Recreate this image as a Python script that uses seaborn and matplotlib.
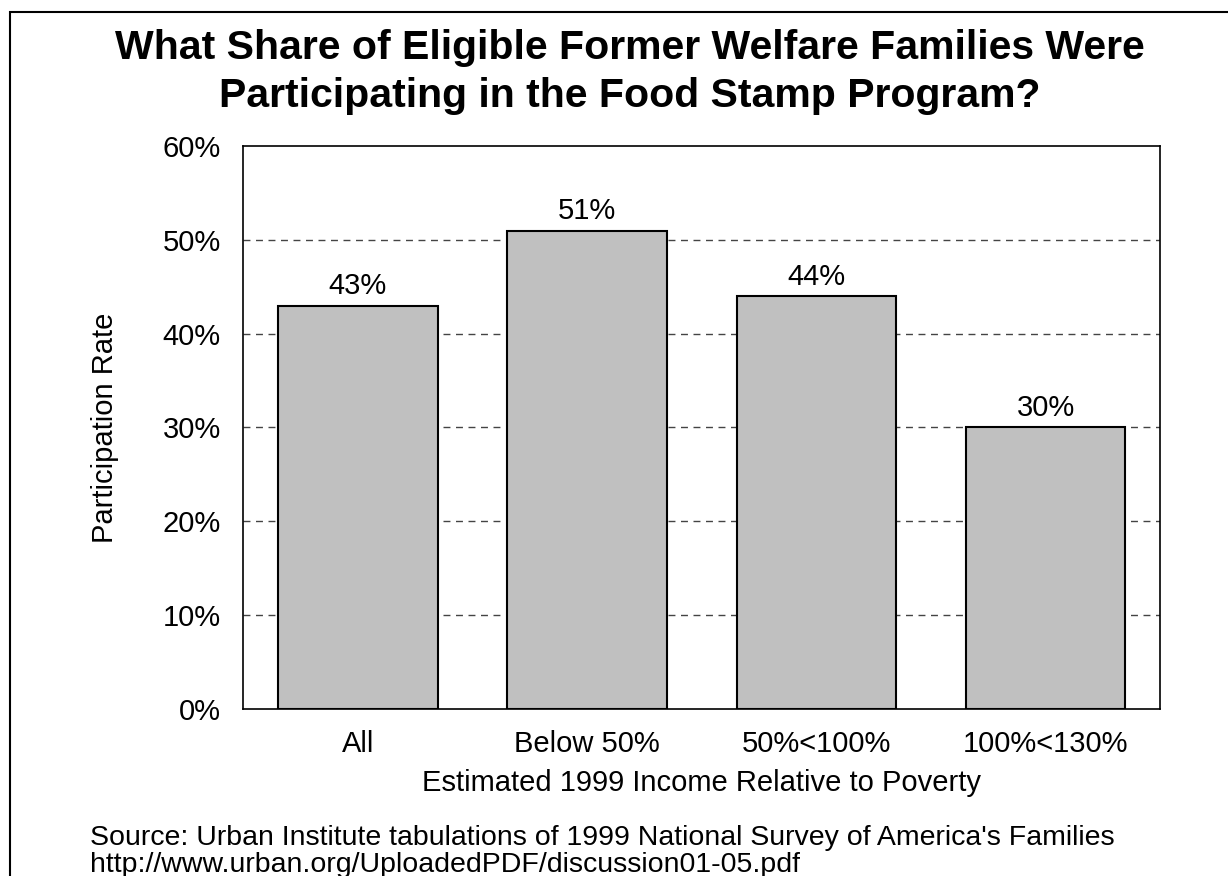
import matplotlib
matplotlib.use("Agg")
import matplotlib.pyplot as plt
import seaborn as sns
import pandas as pd
from matplotlib.patches import Rectangle
from matplotlib.ticker import MultipleLocator, PercentFormatter

categories = ["All", "Below 50%", "50%<100%", "100%<130%"]
rates = [43, 51, 44, 30]
title = "What Share of Eligible Former Welfare Families Were\nParticipating in the Food Stamp Program?"
xlabel = "Estimated 1999 Income Relative to Poverty"
ylabel = "Participation Rate"
source = ("Source: Urban Institute tabulations of 1999 National Survey of America's Families\n"
          "http://www.urban.org/UploadedPDF/discussion01-05.pdf")

sns.set_theme(style="white")
plt.rcParams["font.family"] = ["Liberation Sans", "DejaVu Sans"]
plt.rcParams["text.color"] = "black"
plt.rcParams["axes.labelcolor"] = "black"

df = pd.DataFrame({"category": categories, "rate": rates})

fig = plt.figure(figsize=(12.28, 8.76), dpi=100)
ax = fig.add_axes([0.198, 0.191, 0.747, 0.642])

sns.barplot(data=df, x="category", y="rate", color="#c0c0c0", saturation=1,
            width=0.695, edgecolor="black", linewidth=1.5, ax=ax, zorder=3)

ax.set_ylim(0, 60)
ax.set_xlim(-0.5, len(categories) - 0.5)
ax.yaxis.set_major_locator(MultipleLocator(10))
ax.yaxis.set_major_formatter(PercentFormatter(decimals=0))
for y in range(10, 60, 10):
    ax.axhline(y, color="#444444", linestyle=(0, (5, 4)), linewidth=1.0, zorder=1)

for spine in ax.spines.values():
    spine.set_visible(True)
    spine.set_color("black")
    spine.set_linewidth(1.2)

ax.tick_params(axis="both", length=0, labelsize=21, colors="black")
ax.tick_params(axis="x", pad=15)
ax.tick_params(axis="y", pad=16)
ax.set_xlabel(xlabel, fontsize=21, color="black")
ax.set_ylabel(ylabel, fontsize=21, color="black")
ax.xaxis.set_label_coords(0.5, -0.108)
ax.yaxis.set_label_coords(-0.135, 0.5)

for container in ax.containers:
    ax.bar_label(container, labels=[f"{v}%" for v in rates], padding=4, fontsize=21)

fig.text(0.513, 0.918, title, ha="center", va="center", fontsize=29.5,
         fontweight="bold", linespacing=1.32)
fig.text(0.0733, 0.058, source, ha="left", va="top", fontsize=20.5, linespacing=1.04)

fig.patches.append(Rectangle((10 / 1228, -0.1), 1.2, 1 - 12 / 876 + 0.1,
                             transform=fig.transFigure, fill=False,
                             edgecolor="black", linewidth=1.5))

fig.savefig("out.png", dpi=100)
